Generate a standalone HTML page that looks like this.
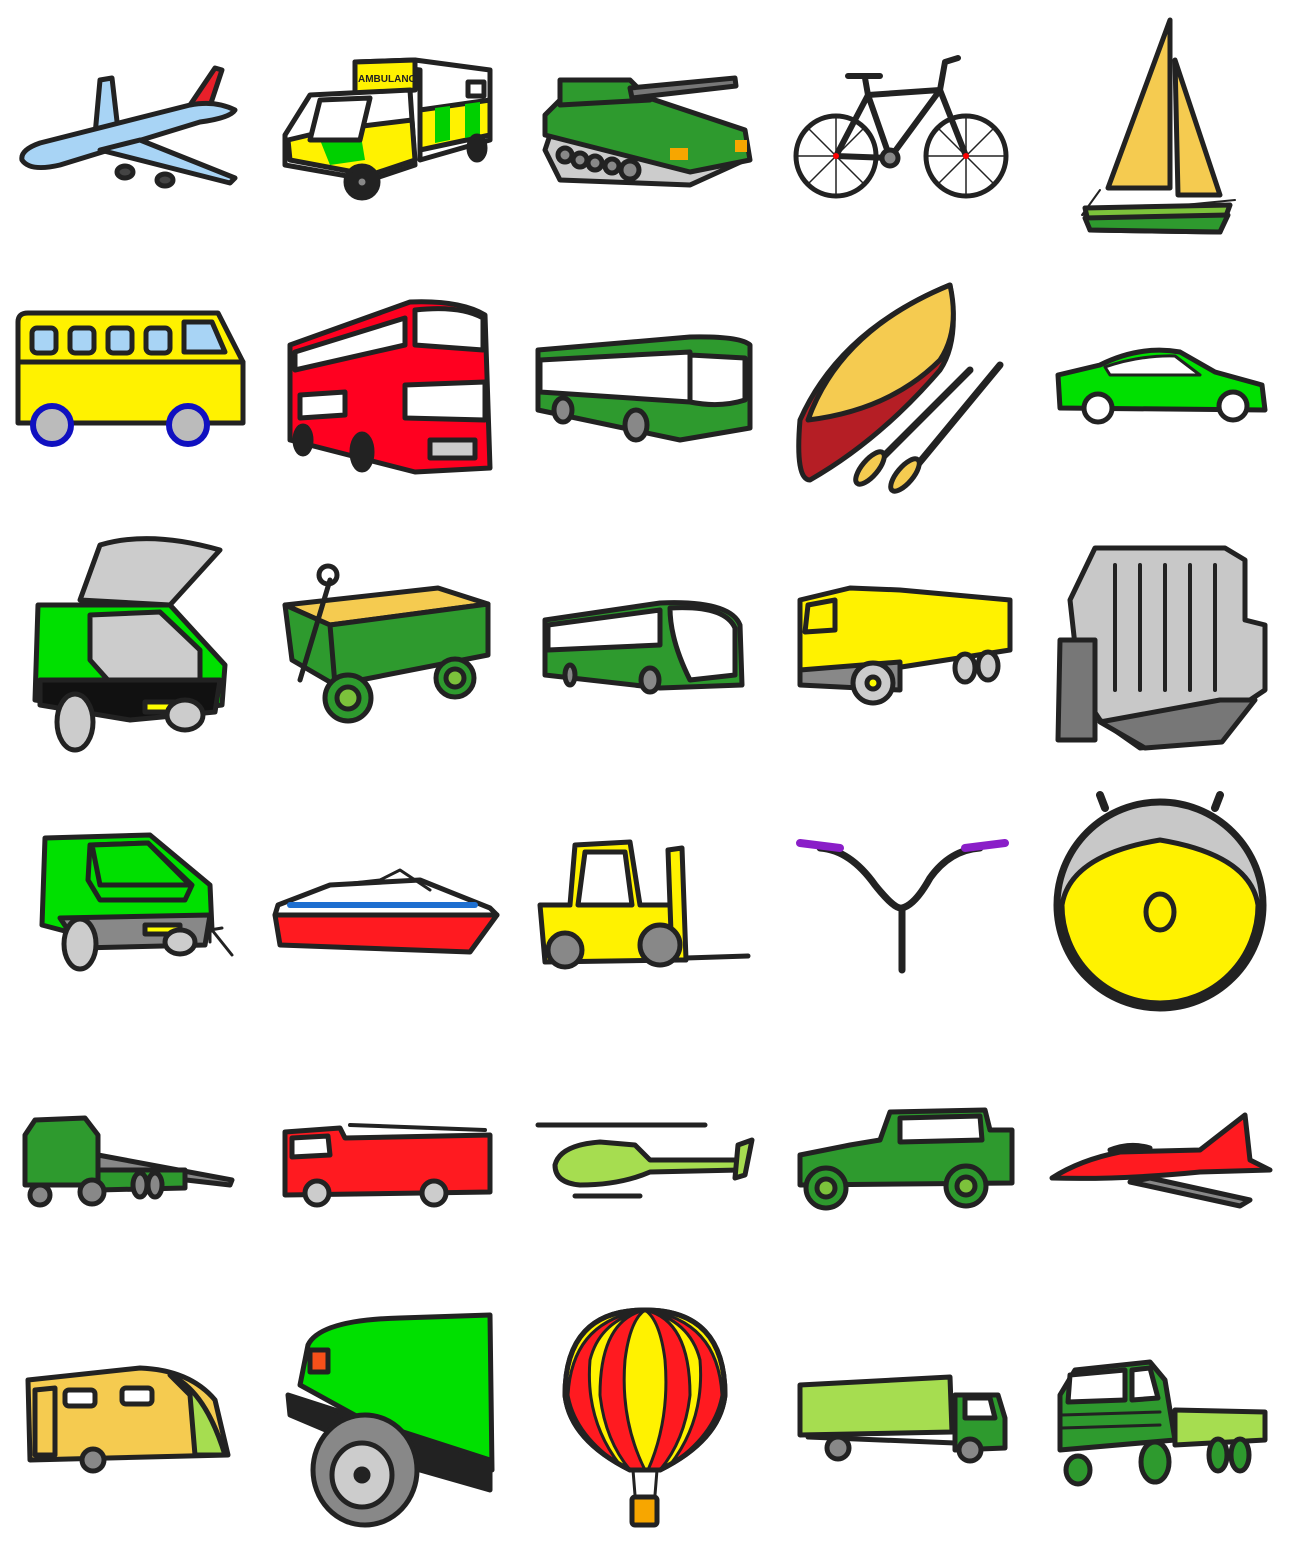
<!DOCTYPE html>
<html><head><meta charset="utf-8"><style>
html,body{margin:0;padding:0;background:#fff;width:1290px;height:1548px;overflow:hidden}
svg{display:block}
</style></head><body>
<svg width="1290" height="1548" viewBox="0 0 1290 1548" stroke="#222" stroke-width="5" stroke-linejoin="round" stroke-linecap="round">
<!-- Row 1 -->
<g>
 <path d="M100 80 L112 78 L118 130 L95 135 Z" fill="#a8d4f5"/>
 <path d="M215 68 L222 70 L208 112 L188 108 Z" fill="#e8202a"/>
 <path d="M22 160 Q20 150 40 143 L190 105 Q215 100 235 110 Q230 118 200 122 L60 165 Q30 172 22 160 Z" fill="#a8d4f5"/>
 <path d="M100 150 L140 140 L235 178 L230 183 Z" fill="#a8d4f5"/>
 <ellipse cx="125" cy="172" rx="8" ry="6" fill="#444"/><ellipse cx="165" cy="180" rx="8" ry="6" fill="#444"/>
</g>
<g>
 <path d="M355 62 L415 60 L490 70 L490 140 L420 160 L420 70 Z" fill="#fff"/>
 <path d="M355 62 L415 60 L415 90 L355 95 Z" fill="#fff200"/>
 <text x="358" y="82" font-family="Liberation Sans, sans-serif" font-size="10" font-weight="bold" fill="#222" stroke="none">AMBULANCE</text>
 <path d="M310 95 L410 90 L415 165 L370 180 L285 165 L285 135 Z" fill="#fff"/>
 <path d="M288 140 L330 130 L412 120 L415 160 L370 175 L290 160 Z" fill="#fff200"/>
 <path d="M320 140 L360 130 L365 160 L330 165 Z" fill="#00d000" stroke="none"/>
 <path d="M420 110 L490 100 L490 135 L420 150 Z" fill="#fff200"/>
 <path d="M435 108 L450 106 L450 140 L435 143 Z M465 104 L480 102 L480 135 L465 138 Z" fill="#00d000" stroke="none"/>
 <path d="M320 100 L370 98 L360 140 L310 140 Z" fill="#fff"/>
 <rect x="468" y="82" width="16" height="14" fill="#fff"/>
 <circle cx="362" cy="182" r="16" fill="#222"/><circle cx="362" cy="182" r="6" fill="#888"/>
 <ellipse cx="477" cy="148" rx="8" ry="12" fill="#222"/>
</g>
<g>
 <path d="M555 120 L545 150 L560 180 L690 185 L745 160 L740 140 Z" fill="#ccc"/>
 <path d="M545 115 L560 100 L640 95 L745 130 L750 160 L690 172 L545 135 Z" fill="#2e9a2e"/>
 <path d="M560 80 L630 80 L650 100 L560 105 Z" fill="#2e9a2e"/>
 <path d="M630 88 L735 78 L736 86 L632 98 Z" fill="#777"/>
 <g fill="#888"><circle cx="565" cy="155" r="7"/><circle cx="580" cy="160" r="7"/><circle cx="595" cy="163" r="7"/><circle cx="612" cy="166" r="7"/><circle cx="630" cy="170" r="9"/></g>
 <rect x="670" y="148" width="18" height="12" fill="#f7a600" stroke="none"/><rect x="735" y="140" width="12" height="12" fill="#f7a600" stroke="none"/>
</g>
<g fill="none">
 <circle cx="836" cy="156" r="40" fill="#fff"/><circle cx="966" cy="156" r="40" fill="#fff"/>
 <g stroke-width="1.5"><path d="M796 156 L876 156 M836 116 L836 196 M808 128 L864 184 M864 128 L808 184 M926 156 L1006 156 M966 116 L966 196 M938 128 L994 184 M994 128 L938 184"/></g>
 <path d="M836 156 L868 95 L940 90 L966 156 M868 95 L890 158 L940 90 M890 158 L836 156" stroke-width="6"/>
 <path d="M848 76 L880 76 M865 78 L868 95 M940 90 L945 62 L958 58" stroke-width="6"/>
 <circle cx="890" cy="158" r="8" fill="#888"/>
 <circle cx="836" cy="156" r="3" fill="red" stroke="none"/><circle cx="966" cy="156" r="3" fill="red" stroke="none"/>
</g>
<g>
 <path d="M1170 20 L1170 188 L1108 188 Z" fill="#f5cb50"/>
 <path d="M1175 60 L1220 195 L1178 195 Z" fill="#f5cb50"/>
 <path d="M1100 190 L1082 215 L1235 200" fill="none" stroke-width="2"/>
 <path d="M1085 208 L1230 205 L1220 232 L1090 230 Z" fill="#7cc23b"/>
 <path d="M1085 218 L1228 215 L1220 232 L1090 230 Z" fill="#2e9a2e"/>
</g>
<!-- Row 2 -->
<g>
 <path d="M18 322 Q18 313 28 313 L218 313 L243 362 L243 423 L18 423 Z" fill="#fff200"/>
 <path d="M18 362 L243 362" fill="none"/>
 <g fill="#a8d4f5"><rect x="32" y="328" width="24" height="25" rx="5"/><rect x="70" y="328" width="24" height="25" rx="5"/><rect x="108" y="328" width="24" height="25" rx="5"/><rect x="146" y="328" width="24" height="25" rx="5"/><path d="M184 322 L212 322 L225 352 L184 352 Z"/></g>
 <circle cx="52" cy="425" r="19" fill="#bbb" stroke="#1010c0" stroke-width="6"/><circle cx="188" cy="425" r="19" fill="#bbb" stroke="#1010c0" stroke-width="6"/>
</g>
<g>
 <path d="M290 345 L410 302 Q460 300 485 315 L490 468 L415 472 L290 440 Z" fill="#ff0020"/>
 <path d="M415 310 Q460 305 483 318 L483 350 L415 345 Z M405 385 L485 382 L485 420 L405 418 Z M300 395 L345 392 L345 415 L300 418 Z M295 352 L405 318 L405 345 L295 370 Z" fill="#fff"/>
 <rect x="430" y="440" width="45" height="18" fill="#ccc"/>
 <ellipse cx="303" cy="440" rx="8" ry="14" fill="#222"/><ellipse cx="362" cy="452" rx="10" ry="18" fill="#222"/>
</g>
<g>
 <path d="M538 350 L690 337 Q740 336 750 345 L750 428 L680 440 L538 410 Z" fill="#2e9a2e"/>
 <path d="M540 360 L690 352 L690 402 L540 392 Z M690 355 L745 358 L745 400 Q720 408 690 402 Z" fill="#fff"/>
 <ellipse cx="563" cy="410" rx="9" ry="12" fill="#888"/><ellipse cx="636" cy="425" rx="11" ry="15" fill="#888"/>
</g>
<g>
 <path d="M950 285 Q960 340 940 370 Q880 440 810 480 Q795 480 800 420 Q840 330 950 285 Z" fill="#b51e25"/>
 <path d="M950 285 Q960 330 940 360 Q890 410 808 420 Q840 330 950 285 Z" fill="#f5cb50"/>
 <path d="M970 370 L870 470 M1000 365 L905 480" stroke-width="7"/>
 <ellipse cx="870" cy="468" rx="8" ry="20" transform="rotate(40 870 468)" fill="#f5cb50"/>
 <ellipse cx="905" cy="475" rx="8" ry="20" transform="rotate(40 905 475)" fill="#f5cb50"/>
</g>
<g>
 <path d="M1058 375 L1100 365 Q1140 345 1180 352 L1215 372 L1262 385 L1265 410 L1060 408 Z" fill="#00e000"/>
 <path d="M1105 367 Q1140 355 1175 356 L1200 375 L1110 375 Z" fill="#fff" stroke-width="3"/>
 <circle cx="1098" cy="408" r="14" fill="#fff"/><circle cx="1233" cy="406" r="14" fill="#fff"/>
</g>
<!-- Row 3 -->
<g>
 <path d="M80 600 L100 545 Q150 530 220 550 L170 605 Z" fill="#ccc"/>
 <path d="M38 605 L170 605 L225 665 L222 705 L140 715 L35 700 Z" fill="#00e000"/>
 <path d="M90 615 L160 612 L200 650 L200 685 L115 688 L90 660 Z" fill="#ccc"/>
 <path d="M40 680 L220 680 L215 712 L130 720 L40 705 Z" fill="#111"/>
 <rect x="145" y="702" width="40" height="10" fill="#ff0"/>
 <ellipse cx="75" cy="722" rx="18" ry="28" fill="#ccc"/><ellipse cx="185" cy="715" rx="18" ry="15" fill="#ccc"/>
</g>
<g>
 <path d="M285 605 L438 588 L488 604 L330 625 Z" fill="#f5cb50"/>
 <path d="M285 605 L330 625 L335 685 L292 660 Z M330 625 L488 604 L488 655 L335 685 Z" fill="#2e9a2e"/>
 <path d="M330 580 L300 680" fill="none"/><circle cx="328" cy="575" r="9" fill="none"/>
 <circle cx="348" cy="698" r="23" fill="#2e9a2e"/><circle cx="348" cy="698" r="11" fill="#7cc23b"/>
 <circle cx="455" cy="678" r="19" fill="#2e9a2e"/><circle cx="455" cy="678" r="9" fill="#7cc23b"/>
</g>
<g>
 <path d="M545 620 L660 603 Q730 600 740 625 L742 685 L660 688 L545 675 Z" fill="#2e9a2e"/>
 <path d="M548 625 L660 610 L660 645 L548 650 Z M670 608 Q725 605 735 628 L735 675 L690 680 Q670 640 670 608 Z" fill="#fff"/>
 <ellipse cx="650" cy="680" rx="9" ry="12" fill="#888"/><ellipse cx="570" cy="675" rx="5" ry="10" fill="#888"/>
</g>
<g>
 <path d="M800 600 L850 588 L900 590 L1010 600 L1010 650 L895 668 L800 675 Z" fill="#fff200"/>
 <path d="M808 605 L835 600 L835 630 L805 632 Z" fill="#fff200"/>
 <path d="M800 670 L900 662 L900 690 L800 685 Z" fill="#888"/>
 <circle cx="873" cy="683" r="20" fill="#ccc"/><circle cx="873" cy="683" r="6" fill="#ff0"/>
 <ellipse cx="965" cy="668" rx="10" ry="14" fill="#ccc"/><ellipse cx="988" cy="666" rx="10" ry="14" fill="#ccc"/>
</g>
<g>
 <path d="M1095 548 L1225 548 L1245 560 L1245 620 L1265 625 L1265 690 L1250 700 L1222 740 L1140 748 L1100 720 L1080 690 L1070 600 Z" fill="#c8c8c8"/>
 <path d="M1060 640 L1095 640 L1095 740 L1058 740 Z M1220 700 L1255 700 L1222 742 L1145 748 L1100 722 Z" fill="#777"/>
 <g fill="none" stroke-width="4"><path d="M1115 565 L1115 690 M1140 565 L1140 690 M1165 565 L1165 690 M1190 565 L1190 690 M1215 565 L1215 690"/></g>
</g>
<!-- Row 4 -->
<g>
 <path d="M45 838 L150 835 L210 885 L212 930 L80 935 L42 925 Z" fill="#00e000"/>
 <path d="M90 845 L148 843 L192 885 L185 900 L100 900 L88 880 Z" fill="#00e000"/>
 <path d="M92 845 L148 843 L190 885 L100 885 Z" fill="#00e000"/>
 <path d="M60 918 L210 915 L205 945 L80 948 Z" fill="#888"/>
 <rect x="145" y="925" width="35" height="9" fill="#ff0"/>
 <ellipse cx="80" cy="944" rx="16" ry="25" fill="#ccc"/><ellipse cx="180" cy="942" rx="15" ry="12" fill="#ccc"/>
 <path d="M212 930 L232 955 M210 930 L222 928 M210 930 L210 942" fill="none" stroke-width="3"/>
</g>
<g>
 <path d="M275 915 L497 915 L470 952 L280 945 Z" fill="#ff1a20"/>
 <path d="M278 905 L330 885 L420 880 L490 908 L497 915 L275 915 Z" fill="#fff"/>
 <path d="M290 905 L475 905" stroke="#1e6fd0" stroke-width="6"/>
 <path d="M335 885 L380 880 L400 870 L430 890" fill="none" stroke-width="3"/>
</g>
<g>
 <path d="M575 845 L630 842 L640 905 L675 905 L680 960 L545 962 L540 905 L570 905 Z" fill="#fff200"/>
 <path d="M585 852 L625 852 L632 905 L578 905 Z" fill="#fff"/>
 <path d="M668 850 L682 848 L686 960 L672 960 Z" fill="#fff200"/>
 <path d="M686 958 L748 956" fill="none"/>
 <circle cx="565" cy="950" r="17" fill="#888"/><circle cx="660" cy="945" r="20" fill="#888"/>
</g>
<g fill="none">
 <path d="M820 848 Q850 850 875 885 Q895 910 902 908 Q915 905 930 878 Q950 850 980 848" stroke-width="7"/>
 <path d="M902 908 L902 970" stroke-width="7"/>
 <path d="M800 843 L840 848 M965 848 L1005 843" stroke="#8a1ec8" stroke-width="8"/>
</g>
<g>
 <circle cx="1160" cy="905" r="103" fill="#c8c8c8" stroke-width="7"/>
 <path d="M1062 905 A98 98 0 0 0 1258 905 Q1250 855 1160 840 Q1070 855 1062 905 Z" fill="#fff200"/>
 <ellipse cx="1160" cy="912" rx="14" ry="18" fill="#fff200"/>
 <path d="M1105 808 L1100 795 M1215 808 L1220 795" stroke-width="8"/>
</g>
<!-- Row 5 -->
<g>
 <path d="M25 1135 L35 1120 L85 1118 L98 1135 L98 1185 L25 1185 Z" fill="#2e9a2e"/>
 <path d="M98 1155 L232 1180 L230 1185 L98 1170 Z" fill="#888"/>
 <path d="M98 1170 L185 1170 L185 1188 L98 1190 Z" fill="#2e9a2e"/>
 <circle cx="40" cy="1195" r="10" fill="#888"/><circle cx="92" cy="1192" r="12" fill="#888"/><ellipse cx="140" cy="1185" rx="7" ry="12" fill="#888"/><ellipse cx="155" cy="1185" rx="7" ry="12" fill="#888"/>
</g>
<g>
 <path d="M285 1132 L340 1128 L345 1138 L490 1135 L490 1192 L285 1195 Z" fill="#ff1a20"/>
 <path d="M292 1138 L328 1136 L330 1155 L292 1157 Z" fill="#fff"/>
 <path d="M350 1125 L485 1130" fill="none" stroke-width="4"/>
 <circle cx="317" cy="1193" r="12" fill="#ccc"/><circle cx="434" cy="1193" r="12" fill="#ccc"/>
</g>
<g>
 <path d="M555 1165 Q560 1145 600 1142 L635 1145 L650 1160 L740 1160 L740 1170 L650 1172 Q620 1185 580 1185 Q555 1183 555 1165 Z" fill="#a6dd50"/>
 <path d="M538 1125 L705 1125" fill="none" stroke-width="5"/>
 <path d="M738 1145 L752 1140 L745 1175 L735 1178 Z" fill="#a6dd50"/>
 <path d="M575 1196 L640 1196" fill="none"/>
</g>
<g>
 <path d="M800 1155 L850 1145 L880 1140 L890 1112 L985 1110 L990 1130 L1012 1130 L1012 1183 L800 1185 Z" fill="#2e9a2e"/>
 <path d="M900 1118 L980 1116 L982 1140 L900 1142 Z" fill="#fff"/>
 <circle cx="826" cy="1188" r="20" fill="#2e9a2e"/><circle cx="826" cy="1188" r="9" fill="#7cc23b"/>
 <circle cx="966" cy="1186" r="20" fill="#2e9a2e"/><circle cx="966" cy="1186" r="9" fill="#7cc23b"/>
</g>
<g>
 <path d="M1052 1178 Q1080 1160 1120 1152 L1200 1150 L1245 1115 L1250 1160 L1270 1170 L1200 1172 Q1120 1180 1052 1178 Z" fill="#ff1a20"/>
 <path d="M1150 1178 L1250 1200 L1240 1206 L1130 1182 Z" fill="#888"/>
 <path d="M1110 1150 Q1130 1142 1150 1148 Z" fill="#fff"/>
</g>
<!-- Row 6 -->
<g>
 <path d="M28 1380 L140 1368 Q190 1370 215 1400 L228 1455 L30 1460 Z" fill="#f5cb50"/>
 <path d="M170 1375 Q205 1390 225 1455 L195 1455 L190 1395 Z" fill="#a6dd50"/>
 <rect x="65" y="1390" width="30" height="16" rx="4" fill="#fff"/><rect x="122" y="1388" width="30" height="16" rx="4" fill="#fff"/>
 <path d="M35 1390 L55 1388 L55 1455 L35 1455 Z" fill="none"/>
 <circle cx="93" cy="1460" r="11" fill="#888"/>
</g>
<g>
 <path d="M308 1345 Q320 1320 400 1318 L490 1315 L492 1470 L440 1462 L300 1385 Z" fill="#00e000"/>
 <path d="M288 1395 L490 1460 L490 1490 L420 1470 L290 1415 Z" fill="#222"/>
 <ellipse cx="365" cy="1470" rx="52" ry="55" fill="#888"/><ellipse cx="362" cy="1475" rx="30" ry="32" fill="#ccc"/><circle cx="362" cy="1475" r="6" fill="#222"/>
 <rect x="310" y="1350" width="18" height="22" fill="#f7501a"/>
</g>
<g>
 <path d="M645 1310 Q725 1310 725 1395 Q720 1440 660 1470 L630 1470 Q570 1440 565 1395 Q565 1310 645 1310 Z" fill="#fff200"/>
 <path d="M645 1310 Q600 1320 600 1395 Q605 1440 630 1470 L645 1470 Q620 1420 625 1360 Q630 1320 645 1310 Z M645 1310 Q690 1320 690 1395 Q685 1440 660 1470 L648 1470 Q670 1420 665 1360 Q660 1320 645 1310 Z M645 1310 Q572 1320 568 1395 Q575 1435 620 1465 Q585 1420 590 1360 Q600 1320 645 1310 Z M645 1310 Q718 1320 722 1395 Q715 1435 670 1465 Q705 1420 700 1360 Q690 1320 645 1310 Z" fill="#ff1a20" stroke-width="3"/>
 <path d="M645 1310 Q725 1310 725 1395 Q720 1440 660 1470 L630 1470 Q570 1440 565 1395 Q565 1310 645 1310 Z" fill="none"/>
 <path d="M633 1470 L635 1495 M657 1470 L655 1495" fill="none" stroke-width="3"/>
 <rect x="632" y="1497" width="25" height="28" rx="3" fill="#f7a600"/>
</g>
<g>
 <path d="M800 1385 L950 1377 L952 1432 L800 1435 Z" fill="#a6dd50"/>
 <path d="M955 1395 L998 1395 L1005 1418 L1005 1448 L955 1450 Z" fill="#2e9a2e"/>
 <path d="M965 1398 L990 1398 L995 1418 L965 1418 Z" fill="#fff"/>
 <path d="M808 1437 L955 1443" fill="none"/>
 <circle cx="838" cy="1448" r="11" fill="#888"/><circle cx="970" cy="1450" r="11" fill="#888"/>
</g>
<g>
 <path d="M1060 1395 L1075 1370 L1150 1362 L1165 1380 L1175 1440 L1060 1450 Z" fill="#2e9a2e"/>
 <path d="M1070 1375 L1125 1370 L1125 1400 L1068 1402 Z M1132 1370 L1150 1368 L1158 1398 L1132 1400 Z" fill="#fff"/>
 <path d="M1175 1410 L1265 1412 L1265 1440 L1175 1445 Z" fill="#a6dd50"/>
 <path d="M1062 1415 L1160 1412 M1062 1428 L1160 1425" fill="none" stroke-width="3"/>
 <ellipse cx="1078" cy="1470" rx="12" ry="14" fill="#2e9a2e"/><ellipse cx="1155" cy="1462" rx="14" ry="20" fill="#2e9a2e"/>
 <ellipse cx="1218" cy="1455" rx="9" ry="16" fill="#2e9a2e"/><ellipse cx="1240" cy="1455" rx="9" ry="16" fill="#2e9a2e"/>
</g>
</svg>
</body></html>
